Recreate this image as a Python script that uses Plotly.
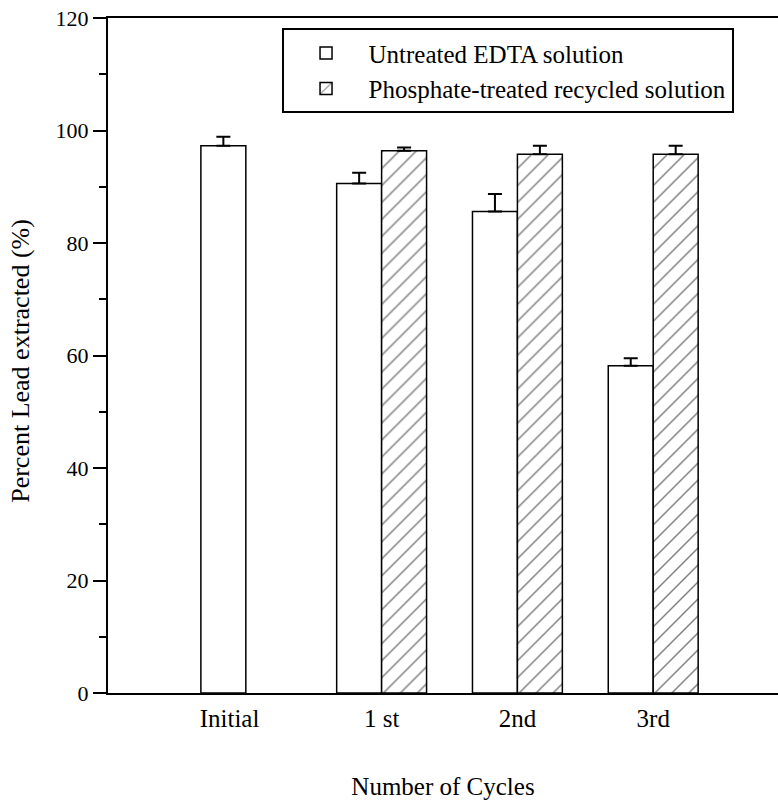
import plotly.graph_objects as go

positions = [0, 1, 2, 3]
tick_positions = [-0.12, 1, 2, 3]
tick_labels = ["Initial", "1 st", "2nd", "3rd"]

untreated = [97.3, 90.6, 85.6, 58.2]
untreated_err = [1.6, 1.9, 3.1, 1.3]

treated_x = [1, 2, 3]
treated = [96.4, 95.8, 95.8]
treated_err = [0.6, 1.5, 1.5]

FONT = "Liberation Serif, Times New Roman, serif"

fig = go.Figure()
fig.add_trace(go.Bar(
    x=positions, y=untreated, name="Untreated EDTA solution",
    offsetgroup="a",
    marker=dict(color="white", line=dict(color="black", width=1.5)),
    error_y=dict(type="data", symmetric=False, array=untreated_err,
                 arrayminus=[0] * len(untreated_err),
                 color="black", thickness=2, width=7),
))
fig.add_trace(go.Bar(
    x=treated_x, y=treated, name="Phosphate-treated recycled solution",
    offsetgroup="b",
    marker=dict(color="white", line=dict(color="black", width=1.5),
                pattern=dict(shape="/", fgcolor="black", bgcolor="white",
                             size=12, solidity=0.12)),
    error_y=dict(type="data", symmetric=False, array=treated_err,
                 arrayminus=[0] * len(treated_err),
                 color="black", thickness=2, width=7),
))

fig.update_layout(
    width=778, height=804,
    margin=dict(l=108, r=0, t=18, b=111),
    paper_bgcolor="white", plot_bgcolor="white",
    barmode="group", bargap=0.338, bargroupgap=0,
    font=dict(family=FONT, size=22, color="black"),
    showlegend=True,
    legend=dict(x=0.259, y=0.985, xanchor="left", yanchor="top",
                bordercolor="black", borderwidth=2, bgcolor="white",
                font=dict(size=25, family=FONT), traceorder="normal",
                itemwidth=75, tracegroupgap=10),
    xaxis=dict(range=[-1.015, 3.919], tickmode="array",
               tickvals=tick_positions, ticktext=tick_labels,
               ticks="", showgrid=False, zeroline=False, automargin=False,
               showline=True, linecolor="black", linewidth=2, mirror=True,
               ticklabelstandoff=2, tickfont=dict(size=25),
               title=dict(text="Number of Cycles", standoff=46,
                          font=dict(size=25))),
    yaxis=dict(range=[0, 120], dtick=20, ticks="outside", ticklen=13,
               tickwidth=1.5, tickcolor="black", automargin=False,
               tickfont=dict(size=22),
               minor=dict(dtick=10, ticks="outside", ticklen=7,
                          tickwidth=1.5, tickcolor="black"),
               showgrid=False, zeroline=False,
               showline=True, linecolor="black", linewidth=2),
    annotations=[dict(text="Percent Lead extracted (%)", textangle=-90,
                      xref="paper", yref="paper", x=-0.13, y=0.492,
                      xanchor="center", yanchor="middle", showarrow=False,
                      font=dict(size=26, family=FONT, color="black"))],
)

fig.write_html("out.html",
               config={"displayModeBar": False},
               post_script="document.body.style.margin='0';")
